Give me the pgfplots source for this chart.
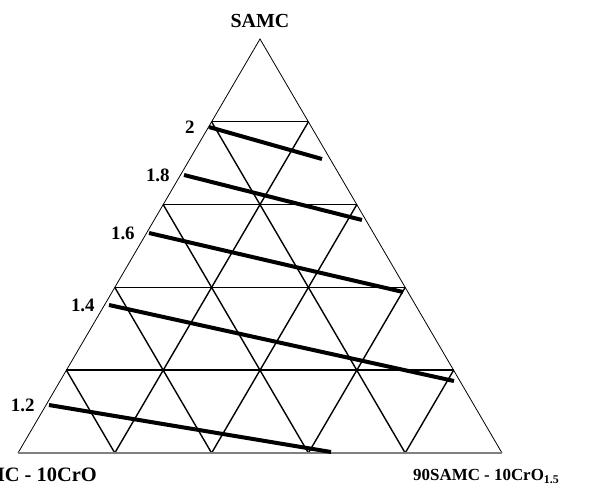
\documentclass[border=0pt]{standalone}
\usepackage{fontspec}
\setmainfont{Liberation Serif}
\usepackage{pgfplots}
\pgfplotsset{compat=1.18}

% Triangle coordinates: base runs from x=0 to x=1, apex at (0.5,1)
\newcommand{\lbl}{\fontsize{17}{20}\selectfont\bfseries}
\newcommand{\leftlbl}{\fontsize{20.5}{24}\selectfont\bfseries}
\newcommand{\numlbl}{\fontsize{19}{22}\selectfont\bfseries}
\newcommand{\toplbl}{\fontsize{20}{24}\selectfont\bfseries}

\begin{document}
\begin{tikzpicture}
\begin{axis}[
  scale only axis,
  width=592bp, height=488bp,
  xmin=-0.03719, xmax=1.18595,
  ymin=-0.08454, ymax=1.09420,
  hide axis, clip=false,
  every axis plot/.append style={mark=none},
]
% --- grid lines parallel to the base
\pgfplotsinvokeforeach{0.2,0.4,0.6,0.8}{
  \addplot[black, line width=1.4bp] coordinates {({#1/2},#1) ({1-#1/2},#1)};
}
% --- grid lines parallel to the left edge
\pgfplotsinvokeforeach{0.2,0.4,0.6,0.8}{
  \addplot[black, line width=1.4bp] coordinates {(#1,0) ({(1+#1)/2},{1-#1})};
}
% --- grid lines parallel to the right edge
\pgfplotsinvokeforeach{0.2,0.4,0.6,0.8}{
  \addplot[black, line width=1.4bp] coordinates {(#1,0) ({#1/2},#1)};
}
% --- outer triangle
\addplot[black, line width=0.8bp] coordinates {(0,0) (0.5,1) (1,0)};
\addplot[gray, line width=2bp] coordinates {(0,0) (1,0)};

% --- iso-lines
\addplot[black, line width=4bp] coordinates {(0.3946,0.7874) (0.6281,0.7101)}
  node[pos=0, anchor=east, xshift=-9bp, font=\numlbl] {2};
\addplot[black, line width=4bp] coordinates {(0.3430,0.6715) (0.7107,0.5628)}
  node[pos=0, anchor=east, xshift=-9bp, font=\numlbl] {1.8};
\addplot[black, line width=4bp] coordinates {(0.2707,0.5314) (0.7955,0.3889)}
  node[pos=0, anchor=east, xshift=-9bp, font=\numlbl] {1.6};
\addplot[black, line width=4bp] coordinates {(0.1880,0.3575) (0.9008,0.1739)}
  node[pos=0, anchor=east, xshift=-9bp, font=\numlbl] {1.4};
\addplot[black, line width=4bp] coordinates {(0.0640,0.1159) (0.6467,0.0024)}
  node[pos=0, anchor=east, xshift=-9bp, font=\numlbl] {1.2};

% --- corner labels
\node[font=\toplbl] at (axis cs:0.5,1.0435) {SAMC};
\node[font=\leftlbl, anchor=base east, inner sep=0pt] at (axis cs:0.1632,-0.0700) {90SAMC - 10CrO};
\node[font=\lbl, anchor=base west, inner sep=0pt] at (axis cs:0.8161,-0.0676) {90SAMC - 10CrO\textsubscript{1.5}};
\end{axis}
\pgfresetboundingbox
\useasboundingbox (0,0) rectangle (592bp,488bp);
\end{tikzpicture}
\end{document}
